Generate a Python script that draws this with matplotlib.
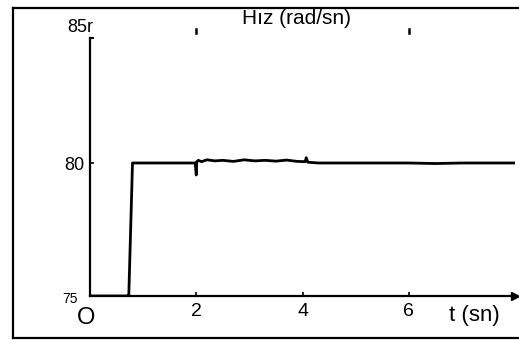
import matplotlib.pyplot as plt
from matplotlib.lines import Line2D

plt.rcParams['font.family'] = ['Liberation Sans', 'DejaVu Sans']

# hız cevabı (rad/sn), elle okunan noktalar
t = [0.0, 0.72, 0.73, 0.80, 1.20, 1.60, 1.98, 2.00, 2.01, 2.04, 2.10, 2.20, 2.35,
     2.50, 2.70, 2.90, 3.10, 3.30, 3.50, 3.70, 3.90, 4.05, 4.07, 4.10, 4.30,
     4.60, 5.00, 5.50, 6.00, 6.50, 7.00, 7.50, 8.0]
w = [75.0, 75.0, 75.0, 80.0, 80.0, 80.0, 80.0, 79.55, 80.05, 80.1, 80.05, 80.12,
     80.08, 80.1, 80.06, 80.12, 80.08, 80.1, 80.07, 80.11, 80.06, 80.05, 80.2,
     80.03, 80.0, 80.0, 80.0, 80.0, 80.0, 79.98, 80.0, 80.0, 80.0]

xticks = [2, 4, 6]
yticks = [80]

W, H = 519, 340
fig = plt.figure(figsize=(W / 100, H / 100), dpi=100)

def px(x, y):
    return x / W, 1 - y / H

x0, x1 = 90, 515
ytop, ybot = 30, 296
ax = fig.add_axes([x0 / W, 1 - ybot / H, (x1 - x0) / W, (ybot - ytop) / H])
ax.set_xlim(0, 8)
ax.set_ylim(75, 85)
ax.plot(t, w, color='black', lw=2)

for s in ['top', 'right']:
    ax.spines[s].set_visible(False)
ax.spines['left'].set_linewidth(1.6)
ax.spines['bottom'].set_linewidth(1.6)
ax.spines['left'].set_bounds(75, 84.7)
ax.plot([8], [75], marker='>', color='black', ms=6, clip_on=False)
ax.plot([0, 0.06], [84.7, 84.7], color='black', lw=1.5, clip_on=False)

ax.set_xticks(xticks)
ax.set_xticklabels([str(v) for v in xticks], fontsize=14)
ax.set_yticks(yticks)
ax.set_yticklabels(['80'], fontsize=13)
ax.tick_params(axis='x', direction='in', length=3, width=1.2, pad=5)
ax.tick_params(axis='y', direction='in', length=3, width=1.2, pad=4)

# üstteki küçük işaretler
for v in [2, 6]:
    ax.plot([v, v], [84.9, 85.05], color='black', lw=1.8, clip_on=False)

fig.text(*px(296, 18), 'Hız (rad/sn)', fontsize=15, ha='center', va='center')
fig.text(*px(474, 316), 't (sn)', fontsize=16, ha='center', va='center')
fig.text(*px(93, 27), '85r', fontsize=13, ha='right', va='center')
fig.text(*px(70, 299), '75', fontsize=10, ha='center', va='center')
fig.text(*px(86, 318), 'O', fontsize=17, ha='center', va='center')

# dış çerçeve (sağ kenar yok)
for xs, ys in [([13, 519], [8, 8]), ([13, 13], [8, 338]), ([13, 519], [338, 338])]:
    fig.lines.append(Line2D([x / W for x in xs], [1 - y / H for y in ys],
                            transform=fig.transFigure, color='black', lw=1.6))

fig.savefig('out.png', dpi=100)
